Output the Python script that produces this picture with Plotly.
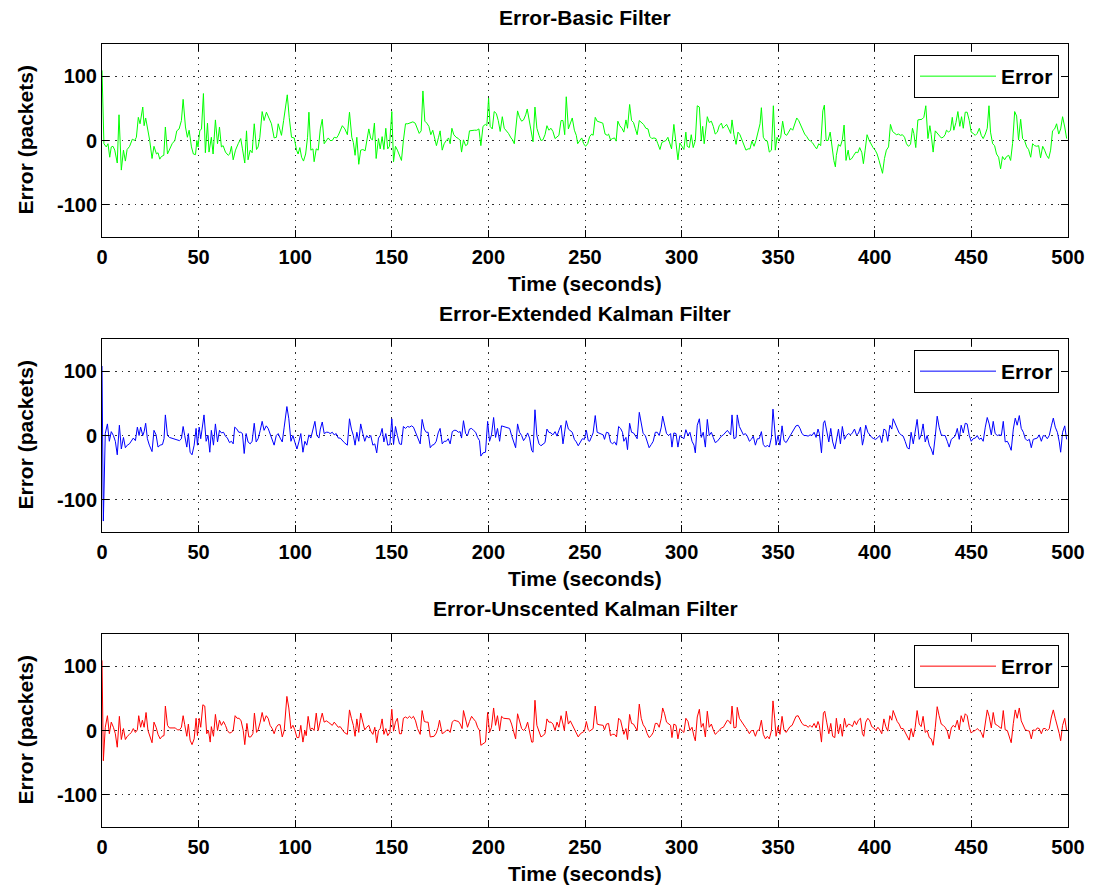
import plotly.graph_objects as go

# ---------------- data ----------------
BASIC_T = [
    0, 1.0, 2.2, 3.1, 4.0, 4.8, 5.7, 6.6, 7.9, 8.8,
    10.0, 11.1, 12.1, 13.0, 14.3, 15.7, 16.9, 17.8, 18.8, 19.7,
    21.1, 21.8, 22.6, 23.8, 24.7, 25.9, 26.9, 28.2, 29.0, 29.9,
    30.7, 32.0, 32.8, 33.9, 35.1, 36.3, 37.7, 38.7, 39.9, 41.1,
    42.0, 43.2, 44.2, 45.1, 46.3, 47.3, 48.4, 49.1, 49.7, 50.6,
    51.5, 52.5, 53.5, 54.6, 55.4, 56.6, 57.5, 58.7, 59.8, 60.8,
    61.8, 62.7, 63.9, 65.3, 66.1, 67.0, 67.9, 69.1, 70.5, 71.8,
    72.7, 73.9, 74.8, 75.6, 76.7, 77.7, 78.8, 80.0, 80.8, 81.7,
    82.9, 83.9, 85.1, 86.4, 87.7, 89.1, 90.3, 91.2, 92.1, 92.9,
    94.0, 95.0, 95.9, 96.9, 98.1, 99.5, 100.7, 101.5, 102.4, 103.3,
    104.3, 105.4, 106.4, 107.1, 108.1, 109.2, 109.8, 110.9, 111.9, 113.0,
    114.0, 115.0, 116.1, 117.1, 118.1, 119.2, 120.2, 121.4, 122.3, 123.1,
    124.4, 125.7,
    127.0, 128.1, 129.3, 130.1, 131.0, 131.9, 132.9, 133.9, 135.0, 136.2,
    137.0, 138.1, 139.1, 140.0, 141.0, 141.9, 143.1, 144.0, 145.0, 145.9,
    146.9, 147.9, 148.8, 150.0, 150.9, 151.9, 152.9, 154.0, 155.0, 156.0,
    157.1, 158.3, 159.5, 160.9, 162.1, 163.3, 164.2, 165.2, 166.1, 167.1,
    168.1, 169.2, 170.2, 171.2, 172.1, 173.1, 174.2, 175.0, 176.1, 177.1,
    178.2, 179.4, 180.2, 181.1, 182.1, 183.3, 184.5, 185.4, 186.1, 187.1,
    188.2, 189.2, 190.2, 191.5, 192.7, 194.0, 195.1, 196.1, 197.2, 198.4,
    199.2, 200.1, 200.9, 202.0, 203.0, 204.1, 205.1, 206.1, 207.2, 208.2,
    209.2, 210.4, 211.7, 212.5, 213.4, 214.4, 215.1, 216.1, 217.2, 218.2,
    219.3, 220.1, 221.0, 222.0, 223.1, 224.1, 225.1, 226.2, 227.2, 228.2,
    229.3, 230.3, 231.3, 232.4, 233.4, 234.5, 235.5, 236.5, 237.6, 238.6,
    239.5, 240.3, 241.4, 242.4, 243.4, 244.5, 245.5, 246.2, 247.2, 248.3,
    249.3, 250.3, 251.4, 252.4,
    253.5, 254.2, 255.3, 256.3, 257.3, 258.4, 259.2, 260.4, 261.5, 262.2,
    263.2, 264.2, 265.3, 266.1, 267.0, 268.0, 269.1, 270.1, 271.2, 272.0,
    273.1, 274.1, 275.1, 276.0, 277.0, 278.1, 279.1, 280.3, 281.5, 282.6,
    283.6, 284.6, 285.7, 286.7, 287.7, 288.8, 289.8, 290.8, 291.9, 292.9,
    293.9, 294.8, 296.0, 297.1, 298.1, 299.1, 300.2, 301.2, 302.2, 302.9,
    304.0, 305.0, 306.0, 307.1, 308.1, 309.2, 310.2, 310.9, 311.7, 312.6,
    313.3, 314.3, 315.4, 316.4, 317.4, 318.5, 319.5, 320.6, 321.4, 322.3,
    323.3, 324.4, 325.4, 326.1, 327.1, 328.2, 329.2, 330.2, 331.3, 332.3,
    333.3, 334.4, 335.4, 336.4, 337.5, 338.5, 339.6, 340.6, 341.3, 342.3,
    343.4, 344.4, 345.4, 346.5, 347.5, 348.5, 349.4, 350.3, 351.3, 352.3,
    353.4, 354.4, 355.4, 356.5, 357.5, 358.5, 359.6, 360.6, 361.7, 362.7,
    363.7, 364.8, 365.8, 366.8, 367.9, 368.9, 369.9, 371.0, 372.0, 373.1,
    373.9, 374.8, 375.8, 376.9, 377.9, 378.8, 379.6,
    380.1, 381.2, 382.2, 383.2, 384.1, 385.1, 386.2, 387.0, 388.1, 389.1,
    390.2, 391.2, 392.2, 393.3, 394.1, 395.0, 396.0, 397.1, 398.1, 399.1,
    400.2, 401.2, 402.2, 403.3, 404.0, 405.0, 406.0, 407.1, 408.1, 409.2,
    410.2, 411.2, 412.3, 413.3, 414.3, 415.4, 416.4, 417.4, 418.5, 419.5,
    420.2, 421.2, 422.3, 423.3, 424.4, 425.4, 426.4, 427.5, 428.5, 429.2,
    430.2, 431.3, 432.3, 433.3, 434.4, 435.4, 436.4, 437.1, 438.2, 439.2,
    440.1, 440.9, 442.0, 443.0, 444.0, 444.9, 445.8, 446.8, 447.8, 448.9,
    449.9, 450.9, 452.0, 453.0, 454.1, 455.1, 456.1, 457.2, 458.2, 459.1,
    459.9, 461.0, 462.0, 463.0, 464.1, 465.1, 466.1, 467.2, 468.2, 469.3,
    470.3, 471.3, 472.4, 473.4, 474.4, 475.5, 476.5, 477.5, 478.6, 479.6,
    480.7, 481.7, 482.7, 483.8, 484.8, 485.8, 486.9, 487.9, 488.9, 490.0,
    491.0, 492.0, 493.1, 494.1, 495.2, 496.2, 497.2, 498.3, 499.3,
]
BASIC_E = [
    109, -5, -10, -5, -26, -10, -9, -15, -35, 40,
    -46, -15, -32, -14, -9, 2, 0, 5, 36, 26,
    52, 23, 35, 18, 0, -28, -9, -21, -19, -29,
    -25, -23, 21, -21, -13, -5, 0, 15, 18, 31,
    64, 21, 5, 16, -10, -21, -22, 0, -10, 15,
    18, 73, -19, 27, -18, 5, -21, 32, -5, 21,
    -10, -8, -18, -23, -21, -9, -30, -15, -5, 3,
    -13, -35, 15, -30, -15, -19, 26, -14, -10, 5,
    45, 31, 44, 36, 26, 4, 5, 26, 15, 8,
    31, 51, 71, 36, 5, 4, -15, -21, -11, -26,
    -32, -21, 5, 44, -15, -13, -33, -13, -15, 18,
    33, -5, 0, 4, 0, 0, 5, 4, 8, 15,
    23, 18,
    9, 44, 5, -3, -23, 5, -37, -15, -14, -16,
    0, 18, 3, 1, 27, -28, 3, -13, 6, -14,
    19, -13, -9, 45, -33, -9, -15, -23, -31, 0,
    26, 26, 28, 29, 27, 18, 11, 15, 77, 30,
    27, 22, 9, 16, 3, -8, 5, 15, -15, -5,
    0, 4, -5, 19, 9, 5, 3, 0, -18, 1,
    -8, -6, 15, 16, 16, 16, 18, -8, 22, 25,
    23, 66, 22, 18, 45, 42, 31, 14, 37, 19,
    16, 11, 4, 1, -5, 23, 46, 36, 30, 32,
    40, 49, 32, 15, -2, 52, 19, 8, 0, 1,
    9, 23, 16, 19, 14, 3, 5, 8, 31, 31,
    9, 68, 18, 27, 35, 16, 8, -5, 0, 4,
    -5, -9, -5, 6,
    10, 8, 36, 30, 29, 28, 27, 10, 8, 10,
    1, 3, 4, -1, 30, 23, 19, 13, 32, 19,
    56, 31, 28, 19, 9, 31, 28, 25, 19, 18,
    6, 3, 4, 3, -5, -14, -3, -1, 0, 5,
    -5, -13, 25, -10, -30, -4, -9, -14, 13, -9,
    -11, 9, -11, 0, 54, 52, 0, 22, -5, 19,
    37, 28, 30, 22, 10, 13, 23, 27, 19, 22,
    25, 18, 11, 32, 9, -6, 13, 9, 0, -10,
    -15, -13, -13, -1, -9, 0, 13, 26, 51, 5,
    0, -1, -18, -15, 54, -15, 5, 0, 5, 30,
    10, 8, 13, 19, 16, 27, 35, 31, 23, 16,
    10, 6, 1, -1, -4, -9, -13, -5, -8, 46,
    55, 0, 0, 13, -15, -31, -41,
    -23, -6, -9, 1, 24, -31, -15, -30, -28, -23,
    -18, -19, -11, -19, -36, -15, 9, 0, -6, -11,
    -15, -21, -31, -41, -51, -28, -15, -10, 25, 14,
    11, 9, 10, 8, 9, 5, -5, -9, -6, 19,
    11, -11, 32, 32, 33, 36, 54, 3, 23, 9,
    -18, 15, 11, 8, 4, 5, 9, 16, 13, 16,
    36, 16, 28, 45, 22, 37, 19, 44, 44, 31,
    13, 11, 8, 11, 19, 8, 3, 10, 19, 54,
    13, -5, -8, -21, -26, -44, -25, -30, -25, -23,
    -31, -5, 45, 38, 1, 33, 3, 0, -10, -14,
    -26, -5, -8, -9, -8, -27, -9, -15, -23, -28,
    -15, 15, 18, 26, 10, 18, 37, 21, 3,
]

EKF_T = [
    0, 0.7, 1.7,
    2.8, 3.8, 4.8, 5.9, 6.9, 7.9, 9.0, 10.0, 11.1, 12.1,
    13.1, 14.2, 15.2, 16.2, 17.3, 18.3, 19.2, 20.0, 21.1, 21.8,
    22.6, 23.5, 24.5, 25.9, 26.9, 28.0, 29.0, 30.1, 31.3, 32.1,
    32.8, 33.9, 34.9, 35.9, 37.0, 38.0, 39.0, 40.1, 41.1, 42.0,
    42.8, 43.9, 44.7, 45.6, 46.6, 47.7, 48.7, 49.4, 50.3, 51.1,
    51.8, 52.8, 53.9, 54.9, 55.8, 56.6, 57.7, 58.7, 59.8, 60.8,
    61.8, 62.9, 63.9, 64.9, 66.0, 67.0, 67.9, 68.7, 69.8, 70.8,
    71.8, 72.7, 73.6, 74.6, 75.6, 76.7, 77.7, 78.8, 79.8, 80.8,
    81.9, 82.9, 83.9, 85.0, 86.0, 87.0, 88.1, 89.1, 90.2, 91.2,
    92.2, 93.3, 94.3, 95.7, 96.7, 97.8, 98.8, 99.8, 100.9, 101.9,
    102.9, 104.0, 105.0, 106.0, 107.1, 108.1, 109.2, 110.2, 111.2, 112.3,
    113.0, 114.0, 115.0, 116.1, 117.1, 118.1, 119.2, 120.2, 121.2, 122.3,
    123.3, 124.4, 125.4,
    127.0, 128.1, 129.1, 130.1, 131.0, 131.9, 132.9, 133.9, 135.0, 136.0,
    137.0, 138.1, 139.1, 140.2, 141.2, 142.2, 143.1, 144.0, 145.0, 145.9,
    146.9, 147.9, 149.0, 150.0, 150.9, 151.9, 152.9, 154.0, 155.0, 156.0,
    157.1, 158.1, 159.2, 160.2, 161.2, 162.3, 163.3, 164.7, 165.7, 166.8,
    167.8, 168.8, 169.9, 170.9, 171.9, 173.0, 174.0, 175.0, 176.1, 177.1,
    178.2, 179.2, 180.2, 181.3, 182.3, 183.3, 184.5, 185.4, 186.1, 187.1,
    188.2, 189.2, 190.2, 191.3, 192.3, 193.4, 194.4, 195.4, 196.1, 197.2,
    198.5, 199.6, 200.6, 201.6, 202.7, 203.7, 204.7, 205.8, 206.8, 207.9,
    208.9, 209.9, 211.0, 212.0, 213.0, 214.1, 215.1, 216.1, 217.2, 218.2,
    219.3, 220.3, 221.3, 222.4, 223.1, 224.1, 225.1, 226.2, 227.2, 228.2,
    229.3, 230.3, 231.3, 232.4, 233.4, 234.5, 235.5, 236.5, 237.6, 238.6,
    239.3, 240.3, 241.4, 242.4, 243.4, 244.5, 245.5, 246.5, 247.6, 248.6,
    249.7, 250.7, 251.7, 252.4,
    254.2, 255.3, 256.3, 257.3, 258.4, 259.4, 260.1, 261.1, 262.2, 263.2,
    264.2, 265.3, 266.3, 267.4, 268.4, 269.4, 270.1, 271.2, 272.0, 273.1,
    274.1, 275.1, 276.0, 277.0, 278.1, 279.1, 280.1, 281.2, 282.2, 283.2,
    284.3, 285.3, 286.4, 287.4, 288.4, 289.5, 290.2, 291.2, 292.2, 293.3,
    294.3, 295.0, 296.0, 297.1, 298.1, 299.1, 300.2, 301.2, 302.2, 303.3,
    304.3, 305.4, 306.4, 307.1, 308.1, 309.2, 310.2, 311.2, 312.3, 313.3,
    314.3, 315.4, 316.4, 317.4, 318.5, 319.5, 320.6, 321.6, 322.6, 323.7,
    324.7, 325.4, 326.1, 327.1, 328.2, 328.8, 329.9, 330.9, 332.0, 333.0,
    334.0, 335.1, 336.1, 337.1, 338.2, 339.2, 340.2, 341.3, 342.3, 343.4,
    344.4, 345.4, 346.5, 347.3, 348.2, 348.9, 349.9, 350.9, 352.0, 353.0,
    354.1, 355.1, 356.1, 357.2, 358.2, 359.2, 360.3, 361.3, 362.3, 363.4,
    364.4, 365.5, 366.5, 367.5, 368.6, 369.6, 370.6, 371.3, 372.4, 373.4,
    374.1, 375.1, 376.2, 377.2, 378.2, 379.3,
    380.1, 381.2, 382.2, 383.2, 384.3, 385.3, 386.4, 387.4, 388.4, 389.5,
    390.5, 391.5, 392.6, 393.6, 394.3, 395.3, 396.4, 397.4, 398.4, 399.5,
    400.5, 401.6, 402.6, 403.6, 404.7, 405.7, 406.7, 407.8, 408.8, 409.5,
    410.5, 411.6, 412.6, 413.6, 414.7, 415.7, 416.8, 417.8, 418.8, 419.9,
    420.9, 421.9, 423.0, 424.0, 425.0, 426.1, 427.1, 428.2, 429.2, 430.2,
    431.3, 432.3, 433.3, 434.4, 435.4, 436.4, 437.5, 438.5, 439.6, 440.6,
    441.6, 442.7, 443.7, 444.7, 445.8, 446.8, 447.8, 448.9, 449.9, 450.9,
    452.0, 453.0, 454.1, 455.1, 456.1, 457.2, 458.2, 459.2, 460.3, 461.3,
    462.3, 463.4, 464.4, 465.5, 466.5, 467.5, 468.6, 469.6, 470.6, 471.7,
    472.7, 473.7, 474.8, 475.8, 476.9, 477.9, 478.9, 480.0, 481.0, 482.0,
    483.1, 484.1, 485.1, 486.2, 487.2, 488.3, 489.3, 490.3, 491.4, 492.4,
    493.4, 494.5, 495.5, 496.2, 497.2, 498.3, 499.3,
]
EKF_E = [
    108, -133, 3,
    18, -9, 6, 0, -9, -30, 16, -21, -3, -19,
    -15, -13, -9, -4, -8, 13, 0, 13, 0, 6,
    19, -5, -15, -25, 8, 1, -18, -15, -14, -5,
    32, 0, -3, -4, -4, -5, -6, -8, -5, 14,
    0, -18, 3, -26, -30, -15, 11, -15, 13, -5,
    10, 32, -9, 0, -26, 8, -15, 18, -10, 8,
    4, 5, -1, -4, -11, -9, -13, 13, 10, 5,
    5, 3, -28, 3, -10, -13, -9, 19, -10, -5,
    8, 22, 8, 15, 11, 3, -4, -15, 0, 3,
    -4, -10, 13, 45, 26, -9, 0, -9, -21, -10,
    3, -26, -9, -15, 1, -4, 10, 22, 0, -4,
    10, 21, 3, 5, 5, 3, 5, 1, 3, -4,
    -4, -8, -11,
    -15, 26, 10, 0, -15, 5, -9, 18, 3, -9,
    0, -4, 0, -15, -13, -27, -4, 0, 11, -10,
    3, -15, -14, 26, -14, 14, 0, -13, -14, 14,
    11, 14, 13, 15, 13, 5, -5, -13, 25, 10,
    5, 5, -19, -15, -14, -9, 4, 11, -13, -9,
    -9, -5, -13, 6, 8, 8, 5, 6, -4, 23,
    3, 0, 10, 11, 8, 5, -3, -8, -32, -27,
    -26, 22, -9, 1, 28, -3, 11, -9, 15, 14,
    14, 13, 11, 0, -10, -19, 18, 5, 0, -8,
    -3, 4, -4, -23, -26, 40, 0, -13, -16, -14,
    -11, 10, 5, 4, 1, 6, -1, 8, 16, -13,
    6, 23, 10, 8, 5, -6, -10, -16, -10, -5,
    -6, 8, -8, -9,
    4, 31, 5, 4, 3, 1, -6, 5, 4, -10,
    -13, -10, -15, 14, 11, 5, -9, -3, -22, 19,
    5, 4, 0, -5, 36, 16, 3, 0, -9, -19,
    -14, -9, 5, 5, 0, 13, 30, 16, 3, 0,
    3, -18, 4, 3, -18, 0, -3, -5, 9, 0,
    5, -9, -15, -27, 16, 26, -3, 5, -18, 25,
    0, 5, -3, -11, -9, -5, -1, 1, 4, 8,
    4, 1, 32, -5, -3, 32, 14, 8, 1, 3,
    -1, -9, -6, -1, -15, -5, -5, 6, -14, -18,
    -15, -18, -3, 41, 13, -15, 0, -15, 15, -8,
    -11, -6, 1, 6, 11, 15, 16, 11, 3, 0,
    0, -1, 1, 0, 5, -3, 10, 3, -27, 19,
    23, 8, -10, 11, -10, -21,
    -9, 10, -13, 14, -6, 0, 3, 1, 4, 10,
    1, 3, 13, -15, -5, 16, 5, 0, -3, -5,
    -6, -3, 0, -11, 10, 8, -9, 16, 10, 26,
    18, 11, 4, 1, -1, -9, -19, -21, 5, -13,
    3, 25, -6, 1, 18, -10, 0, -15, -21, -30,
    -1, 30, 13, 1, 0, 0, -9, -18, -6, -3,
    -1, 11, -6, 16, 4, 19, 18, 0, -9, -5,
    -4, 0, -6, -4, -9, 13, 28, 18, 1, 22,
    3, 0, 1, 0, 22, -10, -9, -15, -23, 10,
    27, 16, 31, 11, 5, -5, -8, -6, -19, -6,
    -5, -4, 1, -9, 0, -1, -5, 0, 15, 27,
    13, 5, -10, -26, 5, 15, -6,
]

UKF_T = [
    0, 0.7,
    1.7, 2.8, 3.8, 4.8, 5.9, 6.9, 7.9, 9.0, 10.0, 11.1,
    12.1, 13.1, 14.2, 15.2, 16.2, 17.3, 18.3, 19.0, 20.0, 20.9,
    21.8, 22.8, 23.8, 24.9, 25.9, 26.9, 28.0, 29.0, 30.1, 31.1,
    32.1, 32.8, 33.9, 34.9, 35.9, 37.0, 38.0, 39.0, 40.1, 41.1,
    42.0, 42.8, 43.9, 44.7, 45.6, 46.6, 47.7, 48.7, 49.4, 50.3,
    51.1, 52.2, 53.2, 54.2, 55.1, 56.0, 56.6, 57.7, 58.7, 59.8,
    60.8, 61.8, 62.9, 63.9, 64.9, 66.0, 67.0, 67.9, 68.9, 69.9,
    71.0, 72.0, 73.1, 73.9, 75.0, 76.0, 77.0, 78.1, 78.9, 80.0,
    80.8, 81.9, 82.9, 83.9, 85.0, 86.0, 87.0, 88.1, 89.1, 90.2,
    91.2, 92.2, 93.3, 94.3, 95.7, 96.7, 97.8, 98.8, 99.8, 100.9,
    101.9, 102.9, 104.0, 105.0, 105.7, 106.7, 107.8, 108.8, 109.8, 110.9,
    111.9, 113.0, 114.0, 115.0, 116.1, 117.1, 118.1, 119.2, 120.2, 121.2,
    122.3, 123.3, 124.4, 125.4,
    127.0, 128.1, 129.1, 130.1, 131.0, 131.9, 132.9, 133.9, 135.0, 136.0,
    137.0, 138.1, 139.1, 140.2, 141.2, 142.2, 143.1, 144.0, 145.0, 145.9,
    146.9, 147.9, 149.0, 150.0, 150.9, 151.9, 152.9, 154.0, 155.0, 156.0,
    157.1, 158.1, 159.2, 160.2, 161.2, 162.3, 163.3, 164.7, 165.7, 166.8,
    167.8, 168.8, 169.9, 170.9, 171.9, 173.0, 174.0, 174.7, 176.1, 177.1,
    178.2, 179.2, 180.2, 181.3, 182.3, 183.3, 184.5, 185.4, 186.4, 187.1,
    188.2, 189.2, 190.2, 191.3, 192.3, 193.4, 194.4, 195.4, 196.1, 197.2,
    198.5, 199.6, 200.6, 201.6, 202.7, 203.7, 204.7, 205.8, 206.8, 207.9,
    208.9, 209.9, 211.0, 212.0, 213.0, 214.1, 215.1, 216.1, 217.2, 218.2,
    219.3, 220.3, 221.3, 222.4, 223.1, 224.1, 225.1, 226.2, 227.2, 228.2,
    229.3, 230.3, 231.3, 232.4, 233.4, 234.5, 235.5, 236.5, 237.6, 238.6,
    239.3, 240.3, 241.4, 242.4, 243.4, 244.5, 245.5, 246.5, 247.6, 248.6,
    249.7, 250.7, 251.7, 252.4,
    254.2, 255.3, 256.3, 257.3, 258.4, 259.4, 260.1, 261.1, 262.2, 263.2,
    264.2, 265.3, 266.3, 267.4, 268.4, 269.4, 270.1, 271.2, 272.0, 273.1,
    274.1, 275.1, 276.0, 277.0, 278.1, 279.1, 280.1, 281.2, 282.2, 283.2,
    284.3, 285.3, 286.4, 287.4, 288.4, 289.5, 290.2, 291.2, 292.2, 293.3,
    294.3, 295.0, 296.0, 297.1, 298.1, 299.1, 300.2, 301.2, 302.2, 303.3,
    304.3, 305.4, 306.4, 307.1, 308.1, 309.2, 310.2, 311.2, 312.3, 313.3,
    314.3, 315.4, 316.4, 317.4, 318.5, 319.5, 320.6, 321.6, 322.6, 323.7,
    324.7, 325.4, 326.1, 327.1, 328.2, 328.8, 329.9, 330.9, 332.0, 333.0,
    334.0, 335.1, 336.1, 337.1, 338.2, 339.2, 340.2, 341.3, 342.3, 343.4,
    344.4, 345.4, 346.5, 347.3, 348.2, 348.9, 349.9, 350.9, 352.0, 353.0,
    354.1, 355.1, 356.1, 357.2, 358.2, 359.2, 360.3, 361.3, 362.3, 363.4,
    364.4, 365.5, 366.5, 367.5, 368.6, 369.6, 370.6, 371.3, 372.4, 373.4,
    374.1, 375.1, 376.2, 377.2, 378.2, 379.3,
    380.1, 381.2, 382.2, 383.2, 384.3, 385.3, 386.4, 387.4, 388.4, 389.5,
    390.5, 391.5, 392.6, 393.6, 394.3, 395.3, 396.4, 397.4, 398.4, 399.5,
    400.5, 401.6, 402.6, 403.6, 404.7, 405.7, 406.7, 407.8, 408.8, 409.5,
    410.5, 411.6, 412.6, 413.6, 414.7, 415.7, 416.8, 417.8, 418.8, 419.9,
    420.9, 421.9, 423.0, 424.0, 425.0, 426.1, 427.1, 428.2, 429.2, 430.2,
    431.3, 432.3, 433.3, 434.4, 435.4, 436.4, 437.5, 438.5, 439.6, 440.6,
    441.6, 442.7, 443.7, 444.7, 445.8, 446.8, 447.8, 448.9, 449.9, 450.9,
    452.0, 453.0, 454.1, 455.1, 456.1, 457.2, 458.2, 459.2, 460.3, 461.3,
    462.3, 463.4, 464.4, 465.5, 466.5, 467.5, 468.6, 469.6, 470.6, 471.7,
    472.7, 473.7, 474.8, 475.8, 476.9, 477.9, 478.9, 480.0, 481.0, 482.0,
    483.1, 484.1, 485.1, 486.2, 487.2, 488.3, 489.3, 490.3, 491.4, 492.4,
    493.4, 494.5, 495.5, 496.2, 497.2, 498.3, 499.3,
]
UKF_E = [
    109, -47,
    5, 23, -5, 13, 5, -5, -26, 22, -14, 3,
    -14, -9, -6, -3, 3, -3, 1, 23, 5, 16,
    5, 28, 0, -11, -19, 13, 5, -6, -13, -9,
    -8, 38, 8, 4, 4, 3, 4, 1, 1, 5,
    23, 9, -9, 10, -15, -22, -13, 19, -8, 19,
    5, 40, 38, -5, 0, -18, 6, -9, 25, 0,
    16, 8, 14, 8, 0, -4, -3, 0, 23, 19,
    19, 15, 0, -22, 11, -10, -10, -5, 27, -3,
    1, 13, 28, 14, 23, 19, 8, 3, -5, 5,
    9, 9, -10, 0, 53, 35, 3, 8, 1, -11,
    -11, 8, -18, 0, -8, 22, 1, 4, 0, 27,
    0, 15, 27, 13, 15, 13, 10, 8, 13, 9,
    5, 6, 1, -3,
    -6, 32, 19, 8, -9, 18, -3, 27, 13, 1,
    5, 8, -1, -6, 5, -19, 0, 3, 18, -6,
    3, -8, -3, 33, -1, 13, 19, -5, -5, 19,
    21, 19, 22, 19, 22, 15, 3, -6, 31, 14,
    13, 13, -10, -9, -9, -4, 5, 16, -5, -3,
    0, 1, -3, 13, 16, 15, 14, 10, 3, 31,
    15, 5, 14, 22, 18, 14, 5, 0, -23, -21,
    -18, 28, -3, 5, 35, 8, 23, 0, 22, 19,
    19, 18, 18, 10, -3, -13, 26, 14, 3, 0,
    4, 13, 0, -18, -18, 47, 8, -3, -10, -8,
    -5, 18, 13, 13, 10, 0, 13, 5, 23, 10,
    0, 30, 10, 15, 9, 1, -3, -10, -5, -3,
    -1, 14, 1, -1,
    3, 38, 10, 9, 9, 8, 1, 10, 11, -8,
    -6, -6, -10, 19, 16, 5, -6, 3, -14, 25,
    11, 10, 6, 0, 41, 19, 9, 4, -5, -11,
    -8, -3, 11, 11, 5, 19, 35, 26, 13, 10,
    8, -11, 10, 8, -13, 3, 0, -3, 19, 14,
    0, 5, -9, -16, 21, 33, 5, 11, -10, 30,
    5, 10, 1, -6, -3, 1, 4, 5, 10, 16,
    14, 10, 38, 4, 5, 36, 19, 14, 8, 5,
    1, -5, 0, 0, -9, 0, 1, 16, -6, -13,
    -9, -13, 0, 46, 18, -9, 6, -6, 22, 1,
    -3, 1, 6, 8, 15, 22, 23, 18, 11, 8,
    8, 5, 8, 5, 11, 4, 14, 8, -18, 27,
    30, 13, -5, 11, -9, -11,
    19, -5, 10, -9, 19, 5, 10, 9, 6, 15,
    9, 16, 19, -5, -9, 13, 19, 15, 6, 4,
    0, 5, 1, -5, 18, 6, -1, 23, 16, 31,
    22, 14, 10, 3, 3, -3, -10, -15, 3, -10,
    5, 31, 10, 6, 22, -3, 0, -11, -13, -23,
    5, 37, 23, 10, 8, 5, -1, -13, 4, 8,
    5, 16, 1, 23, 13, 26, 23, 5, -4, -1,
    0, 3, 0, -3, -11, 14, 32, 22, 4, 28,
    10, 8, 5, 3, 31, 1, 0, -9, -19, 11,
    32, 19, 35, 15, 6, 1, 0, -1, -13, 1,
    0, 4, 3, -5, 3, 3, 0, 3, 21, 32,
    19, 8, -5, -16, 8, 19, 0,
]

PANEL_TITLES = ["Error-Basic Filter", "Error-Extended Kalman Filter", "Error-Unscented Kalman Filter"]
LINE_COLORS = ["#00ff00", "#0000ff", "#ff0000"]
SERIES_NAME = "Error"
X_TICKS = [0, 50, 100, 150, 200, 250, 300, 350, 400, 450, 500]
Y_TICKS = [-100, 0, 100]
Y_TICK_TEXT = ["-100", "0", "100"]
X_LABEL = "Time (seconds)"
Y_LABEL = "Error (packets)"

for t, e in ((BASIC_T, BASIC_E), (EKF_T, EKF_E), (UKF_T, UKF_E)):
    assert len(t) == len(e), (len(t), len(e))

# ---------------- layout geometry (pixels of a 1093 x 890 canvas) ----------------
W, H = 1093, 890
FONT = "Liberation Sans, Arial, Helvetica, sans-serif"
PLOT_LEFT, PLOT_RIGHT = 102, 1068
PANEL_TOPS = [44, 339, 634]
PANEL_H = 193


def py(pix):
    """Convert a pixel row (from top) into paper y."""
    return (H - pix) / H


def px(pix):
    return pix / W


fig = go.Figure()
series = [(BASIC_T, BASIC_E), (EKF_T, EKF_E), (UKF_T, UKF_E)]
annotations = []
layout_axes = {}

for i, ((t, e), color, title) in enumerate(zip(series, LINE_COLORS, PANEL_TITLES)):
    n = "" if i == 0 else str(i + 1)
    legend_id = "legend" + n
    fig.add_trace(go.Scatter(
        x=t, y=e, mode="lines", name=SERIES_NAME,
        line=dict(color=color, width=1),
        xaxis="x" + n, yaxis="y" + n, legend=legend_id,
    ))
    top = PANEL_TOPS[i]
    bottom = top + PANEL_H
    axis_common = dict(
        showline=True, linecolor="black", linewidth=1, mirror="ticks",
        ticks="inside", ticklen=7, tickwidth=1, tickcolor="black",
        showgrid=True, gridcolor="#303030", gridwidth=1, griddash="1.5px,5px",
        zeroline=False, automargin=False,
        tickfont=dict(family=FONT, size=20, color="black", weight="bold"),
    )
    layout_axes["xaxis" + n] = dict(
        axis_common, domain=[px(PLOT_LEFT), px(PLOT_RIGHT)], range=[0, 500],
        tickmode="array", tickvals=X_TICKS, anchor="y" + n,
        ticklabelstandoff=2,
    )
    layout_axes["yaxis" + n] = dict(
        axis_common, domain=[py(bottom), py(top)], range=[-150, 150],
        tickmode="array", tickvals=Y_TICKS, ticktext=Y_TICK_TEXT, anchor="x" + n,
    )
    layout_axes[legend_id] = dict(
        x=px(1059), y=py(top + 11), xanchor="right", yanchor="top",
        bgcolor="white", bordercolor="black", borderwidth=1,
        font=dict(family=FONT, size=21, color="black", weight="bold"),
        itemwidth=76,
    )
    # panel title
    annotations.append(dict(
        text=title, xref="paper", yref="paper",
        x=px((PLOT_LEFT + PLOT_RIGHT) / 2), y=py(top - 26),
        xanchor="center", yanchor="middle", showarrow=False,
        font=dict(family=FONT, size=21, color="black", weight="bold"),
    ))
    # axis titles
    annotations.append(dict(
        text=X_LABEL, xref="paper", yref="paper",
        x=px((PLOT_LEFT + PLOT_RIGHT) / 2), y=py(bottom + 46),
        xanchor="center", yanchor="middle", showarrow=False,
        font=dict(family=FONT, size=21, color="black", weight="bold"),
    ))
    annotations.append(dict(
        text=Y_LABEL, xref="paper", yref="paper", textangle=-90,
        x=px(25), y=py(top + PANEL_H / 2),
        xanchor="center", yanchor="middle", showarrow=False,
        font=dict(family=FONT, size=21, color="black", weight="bold"),
    ))

fig.update_layout(
    width=W, height=H,
    margin=dict(l=0, r=0, t=0, b=0),
    paper_bgcolor="white", plot_bgcolor="white",
    showlegend=True,
    annotations=annotations,
    **layout_axes,
)

fig.write_html("out.html")
